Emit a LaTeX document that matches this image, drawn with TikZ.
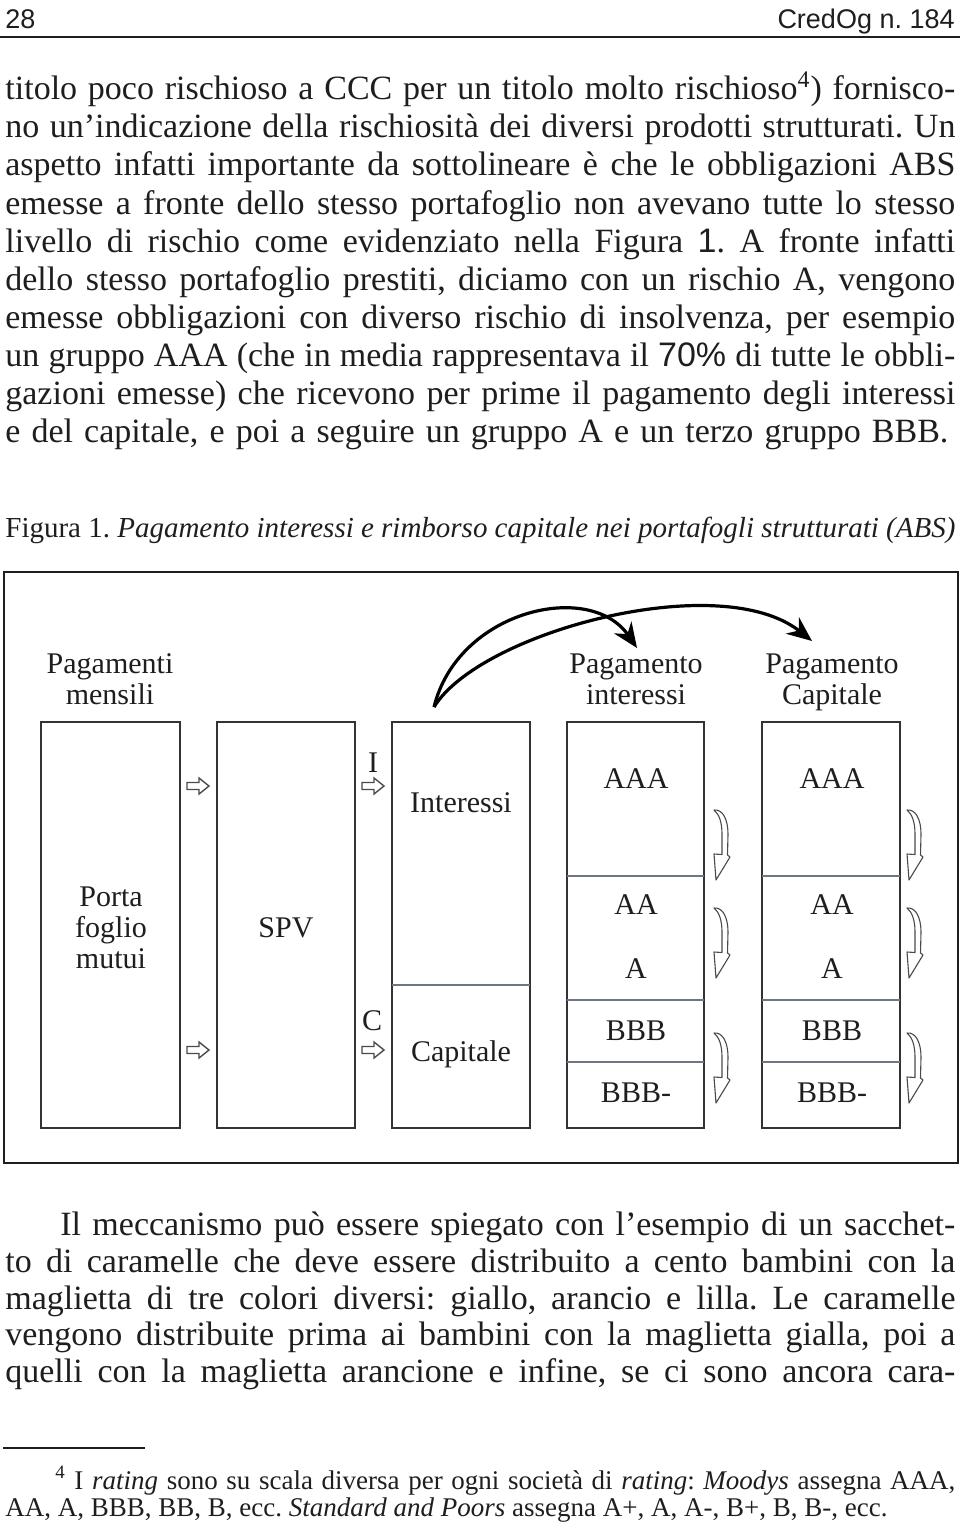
\documentclass[tikz,border=0pt]{standalone}
\usepackage{fontspec}
\setmainfont{Liberation Serif}
\newfontfamily\hdrsans{Liberation Sans}
\usetikzlibrary{arrows.meta}
\definecolor{ink}{HTML}{1E1E1E}
\definecolor{boxink}{HTML}{333333}
\definecolor{divink}{HTML}{6E7585}
\definecolor{hollowink}{HTML}{4A4A4A}
\frenchspacing
\tikzset{
  bodyline/.style={anchor=base west, inner sep=0pt, font=\fontsize{17}{19}\selectfont, text=ink},
  capline/.style={anchor=base west, inner sep=0pt, font=\fontsize{14.5}{17}\selectfont, text=ink},
  noteline/.style={anchor=base west, inner sep=0pt, font=\fontsize{13.5}{15}\selectfont, text=ink},
  hdr/.style={inner sep=0pt, font=\hdrsans\fontsize{13.5}{15}\selectfont, text=ink},
  lbl/.style={inner sep=0pt, anchor=base, font=\fontsize{15}{15.5}\selectfont, text=ink},
  boxline/.style={draw=boxink, line width=1pt},
  divline/.style={draw=divink, line width=0.8pt},
  frameline/.style={draw=ink, line width=1.3pt},
  bigarrow/.style={draw=black, line width=1.6pt, -{Stealth[length=12.5pt,width=10.5pt]}},
  hollowright/.pic={\draw[hollowink, line width=0.7pt, fill=white, line join=miter] (0,-3.5) -- (12,-3.5) -- (12,-8) -- (22,0) -- (12,8) -- (12,3.5) -- (0,3.5) -- cycle;},
  curlarrow/.pic={\draw[hollowink, line width=0.55pt, fill=white, line join=round] (0,0) .. controls (9,-1) and (14,10) .. (14,24) -- (13.5,45) -- (16,47) -- (2,70) -- (0,44) -- (8,44.5) -- (8,24) .. controls (8,12) and (5,4) .. cycle;}
}
\begin{document}
\begin{tikzpicture}[x=0.5pt,y=-0.5pt]
\fill[white] (0,0) rectangle (960,1530);
\useasboundingbox (0,0) rectangle (960,1530);

% header
\node[hdr, anchor=base west] (pgnum) at (5,29) {28};
\node[hdr, anchor=base east] (journal) at (955,29) {CredOg n. 184};
\draw[ink, line width=1pt] (0,37) -- (960,37);

% top paragraph
\node[bodyline] (t1) at (5,100) {\makebox[475pt][s]{titolo poco rischioso a CCC per un titolo molto rischioso\textsuperscript{4}) fornisco-}};
\node[bodyline] (t2) at (5,138) {\makebox[475pt][s]{no un’indicazione della rischiosità dei diversi prodotti strutturati. Un}};
\node[bodyline] (t3) at (5,176) {\makebox[475pt][s]{aspetto infatti importante da sottolineare è che le obbligazioni ABS}};
\node[bodyline] (t4) at (5,214) {\makebox[475pt][s]{emesse a fronte dello stesso portafoglio non avevano tutte lo stesso}};
\node[bodyline] (t5) at (5,252) {\makebox[475pt][s]{livello di rischio come evidenziato nella Figura {\hdrsans 1}. A fronte infatti}};
\node[bodyline] (t6) at (5,290) {\makebox[475pt][s]{dello stesso portafoglio prestiti, diciamo con un rischio A, vengono}};
\node[bodyline] (t7) at (5,328) {\makebox[475pt][s]{emesse obbligazioni con diverso rischio di insolvenza, per esempio}};
\node[bodyline] (t8) at (5,366) {\makebox[475pt][s]{un gruppo AAA (che in media rappresentava il {\hdrsans 70\%} di tutte le obbli-}};
\node[bodyline] (t9) at (5,404) {\makebox[475pt][s]{gazioni emesse) che ricevono per prime il pagamento degli interessi}};
\node[bodyline] (t10) at (5,442) {\makebox[471.5pt][s]{e del capitale, e poi a seguire un gruppo A e un terzo gruppo BBB.}};

% caption
\node[capline] (caption) at (5,537) {\makebox[475pt][s]{Figura 1. \textit{Pagamento interessi e rimborso capitale nei portafogli strutturati (ABS)}}};

% figure frame
\draw[frameline] (4,572) rectangle (958,1163);

% top labels
\node[lbl] (pm1) at (110,673) {Pagamenti};
\node[lbl] (pm2) at (110,704) {mensili};
\node[lbl] (pi1) at (636,673) {Pagamento};
\node[lbl] (pi2) at (636,704) {interessi};
\node[lbl] (pc1) at (832,673) {Pagamento};
\node[lbl] (pc2) at (832,704) {Capitale};

% big arrows
\coordinate (src) at (434,707);
\coordinate (tipI) at (637,648);
\coordinate (tipC) at (812,641);
\draw[bigarrow] (src) .. controls (458,610) and (590,580) .. (tipI);
\draw[bigarrow] (src) .. controls (480,632) and (720,568) .. (tipC);

% boxes
\draw[boxline] (41,722) rectangle (180,1128);
\draw[boxline] (217,722) rectangle (355,1128);
\draw[boxline] (392,722) rectangle (530,1128);
\draw[divline] (392,985) -- (530,985);
\draw[boxline] (567,722) rectangle (704,1128);
\draw[divline] (567,876) -- (704,876);
\draw[divline] (567,1000) -- (704,1000);
\draw[divline] (567,1062) -- (704,1062);
\draw[boxline] (762,722) rectangle (900,1128);
\draw[divline] (762,876) -- (900,876);
\draw[divline] (762,1000) -- (900,1000);
\draw[divline] (762,1062) -- (900,1062);

% box labels
\node[lbl] (porta1) at (111,906) {Porta};
\node[lbl] (porta2) at (111,937) {foglio};
\node[lbl] (porta3) at (111,968) {mutui};
\node[lbl] (spv) at (286,937) {SPV};
\node[lbl] (int) at (461,812) {Interessi};
\node[lbl] (cap) at (461,1061) {Capitale};
\node[lbl] (lI) at (373,772) {I};
\node[lbl] (lC) at (372,1030) {C};

\node[lbl] (aaa4) at (636,788) {AAA};
\node[lbl] (aa4) at (636,914) {AA};
\node[lbl] (a4) at (636,978) {A};
\node[lbl] (bbb4) at (636,1040) {BBB};
\node[lbl] (bbbm4) at (636,1102) {BBB-};
\node[lbl] (aaa5) at (832,788) {AAA};
\node[lbl] (aa5) at (832,914) {AA};
\node[lbl] (a5) at (832,978) {A};
\node[lbl] (bbb5) at (832,1040) {BBB};
\node[lbl] (bbbm5) at (832,1102) {BBB-};

% small hollow arrows
\pic at (187,786) {hollowright};
\pic at (187,1050) {hollowright};
\pic at (362,786) {hollowright};
\pic at (362,1050) {hollowright};

% curved hollow arrows
\pic at (714,810) {curlarrow};
\pic at (714,908) {curlarrow};
\pic at (714,1033) {curlarrow};
\pic at (907,810) {curlarrow};
\pic at (907,908) {curlarrow};
\pic at (907,1033) {curlarrow};

% lower paragraph
\node[bodyline] (u1) at (60,1235) {\makebox[447.5pt][s]{Il meccanismo può essere spiegato con l’esempio di un sacchet-}};
\node[bodyline] (u2) at (5,1272) {\makebox[475pt][s]{to di caramelle che deve essere distribuito a cento bambini con la}};
\node[bodyline] (u3) at (5,1309) {\makebox[475pt][s]{maglietta di tre colori diversi: giallo, arancio e lilla. Le caramelle}};
\node[bodyline] (u4) at (5,1345) {\makebox[475pt][s]{vengono distribuite prima ai bambini con la maglietta gialla, poi a}};
\node[bodyline] (u5) at (5,1382) {\makebox[475pt][s]{quelli con la maglietta arancione e infine, se ci sono ancora cara-}};

% footnote
\draw[ink, line width=0.7pt] (3,1448) -- (145,1448);
\node[noteline] (fn1) at (55,1489) {\makebox[450pt][s]{\textsuperscript{4} I \textit{rating} sono su scala diversa per ogni società di \textit{rating}: \textit{Moodys} assegna AAA,}};
\node[noteline] (fn2) at (5,1516) {AA, A, BBB, BB, B, ecc. \textit{Standard and Poors} assegna A+, A, A-, B+, B, B-, ecc.};
\end{tikzpicture}
\end{document}
